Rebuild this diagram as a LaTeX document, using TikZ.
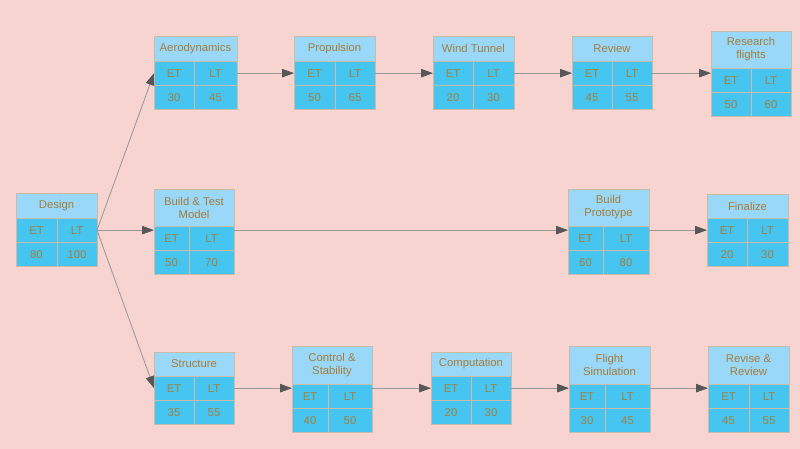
\documentclass[tikz,border=0pt]{standalone}
\usepackage{fontspec}
\setmainfont{Liberation Sans}
\usetikzlibrary{arrows.meta}

\definecolor{bgpink}{HTML}{F7D4CF}
\definecolor{headblue}{HTML}{9AD8FA}
\definecolor{cellblue}{HTML}{47C5F1}
\definecolor{boxline}{HTML}{CBBBA9}
\definecolor{textbrown}{HTML}{A47E3A}
\definecolor{linegray}{HTML}{979797}
\definecolor{headgray}{HTML}{575757}

\tikzset{
	titlecell/.style={draw=boxline, fill=headblue, line width=0.8pt, inner sep=0pt, outer sep=0pt, align=center, text=textbrown, anchor=north west},
	cell/.style={draw=boxline, fill=cellblue, line width=0.8pt, inner sep=0pt, outer sep=0pt, minimum height=24.3, text=textbrown, anchor=north west},
	flow/.style={draw=linegray, line width=0.8pt, -{Triangle[length=12pt,width=8.5pt,color=headgray]}}
}

% name, x, y, width, left cell, title height, title, ET, LT
\newcommand{\pertbox}[9]{
	\node[titlecell, minimum width=#4, minimum height=#6] (#1) at (#2,#3) {#7};
	\node[cell, minimum width=#5] (#1-et) at (#1.south west) {ET};
	\node[cell, minimum width=#4-#5] (#1-lt) at (#1-et.north east) {LT};
	\node[cell, minimum width=#5] (#1-etv) at (#1-et.south west) {#8};
	\node[cell, minimum width=#4-#5] (#1-ltv) at (#1-lt.south west) {#9};
}

\begin{document}
\begin{tikzpicture}[x=1pt, y=-1pt, font=\fontsize{11.3}{13}\selectfont]
	\fill[bgpink] (0,0) rectangle (800,449);
	\useasboundingbox (0,0) rectangle (800,449);

	\pertbox{design}{16}{193}{81}{41}{25}{Design}{80}{100}

	\pertbox{aero}{154}{36}{83}{40}{25}{Aerodynamics}{30}{45}
	\pertbox{prop}{294}{36}{81}{41}{25}{Propulsion}{50}{65}
	\pertbox{wind}{433}{36}{81}{40}{25}{Wind Tunnel}{20}{30}
	\pertbox{review}{572}{36}{80}{40}{25}{Review}{45}{55}
	\pertbox{research}{711}{31}{80}{40}{37}{Research\\flights}{50}{60}

	\pertbox{build}{154}{189}{80}{35}{37}{Build \& Test\\Model}{50}{70}
	\pertbox{proto}{568}{189}{81}{35}{37}{Build\\Prototype}{60}{80}
	\pertbox{fin}{707}{194}{81}{40}{24}{Finalize}{20}{30}

	\pertbox{struct}{154}{352}{80}{40}{24}{Structure}{35}{55}
	\pertbox{control}{292}{346}{80}{36}{38}{Control \&\\Stability}{40}{50}
	\pertbox{comp}{431}{352}{80}{40}{24}{Computation}{20}{30}
	\pertbox{flight}{569}{346}{81}{36}{38}{Flight\\Simulation}{30}{45}
	\pertbox{revise}{708}{346}{81}{41}{38}{Revise \&\\Review}{45}{55}

	% top row
	\draw[flow] (design-lt.east) -- (aero-et.west);
	\draw[flow] (aero-lt.east) -- (prop-et.west);
	\draw[flow] (prop-lt.east) -- (wind-et.west);
	\draw[flow] (wind-lt.east) -- (review-et.west);
	\draw[flow] (review-lt.east) -- (review-lt.east -| research-et.west);

	% middle row
	\draw[flow] (design-lt.east) -- (build-et.west |- design-lt.east);
	\draw[flow] (build-lt.east |- design-lt.east) -- (proto-et.west |- design-lt.east);
	\draw[flow] (proto-lt.east |- fin-et.west) -- (fin-et.west);

	% bottom row
	\draw[flow] (design-lt.east) -- (struct-et.west);
	\draw[flow] (struct-lt.east) -- (control-et.west |- struct-lt.east);
	\draw[flow] (control-lt.east |- comp-et.west) -- (comp-et.west);
	\draw[flow] (comp-lt.east) -- (flight-et.west |- comp-lt.east);
	\draw[flow] (flight-lt.east |- comp-lt.east) -- (revise-et.west |- comp-lt.east);
\end{tikzpicture}
\end{document}
